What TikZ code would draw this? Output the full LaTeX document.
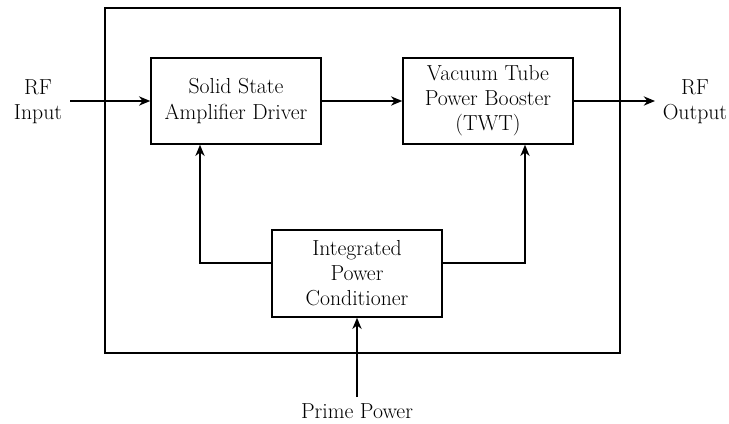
\documentclass[tikz,border=0pt]{standalone}
\usetikzlibrary{arrows.meta}
\begin{document}
\begin{tikzpicture}[x=0.75pt,y=-0.75pt,
  box/.style={draw,line width=1.1pt,minimum width=127.5pt,minimum height=64.5pt,align=center,inner sep=2pt,font=\fontsize{16.3}{18.8}\selectfont},
  lbl/.style={align=center,font=\fontsize{16.3}{18.8}\selectfont},
  arr/.style={line width=1.1pt,-{Stealth[length=8.5pt,width=7pt]}},
  ln/.style={line width=1.1pt}]
\useasboundingbox (0,0) rectangle (729,424);
\node[draw,line width=1.1pt,minimum width=386.25pt,minimum height=258.75pt,inner sep=0pt] (outer) at (362.5,180.5) {};
\node[box] (solid) at (236,101) {Solid State\\Amplifier Driver};
\node[box] (vac) at (488,101) {Vacuum Tube\\Power Booster\\(TWT)};
\node[box,minimum height=65.25pt] (integ) at (357,273.5) {Integrated\\Power\\Conditioner};
\node[lbl] (rfin) at (38,102) {RF\\Input};
\node[lbl] (rfout) at (695,102) {RF\\Output};
\node[lbl] (prime) at (357,411) {Prime Power};
\coordinate (inS) at (70,101);
\coordinate (outE) at (655,101);
\coordinate (primeS) at (357,397);
\draw[arr] (inS) -- (solid.west);
\draw[arr] (solid.east) -- (vac.west);
\draw[arr] (vac.east) -- (outE);
\draw[arr] (primeS) -- (integ.south);
\draw[arr] (integ.west |- 0,263) -| (solid.south -| 200,0);
\draw[arr] (integ.east |- 0,263) -| (vac.south -| 525,0);
\end{tikzpicture}
\end{document}
